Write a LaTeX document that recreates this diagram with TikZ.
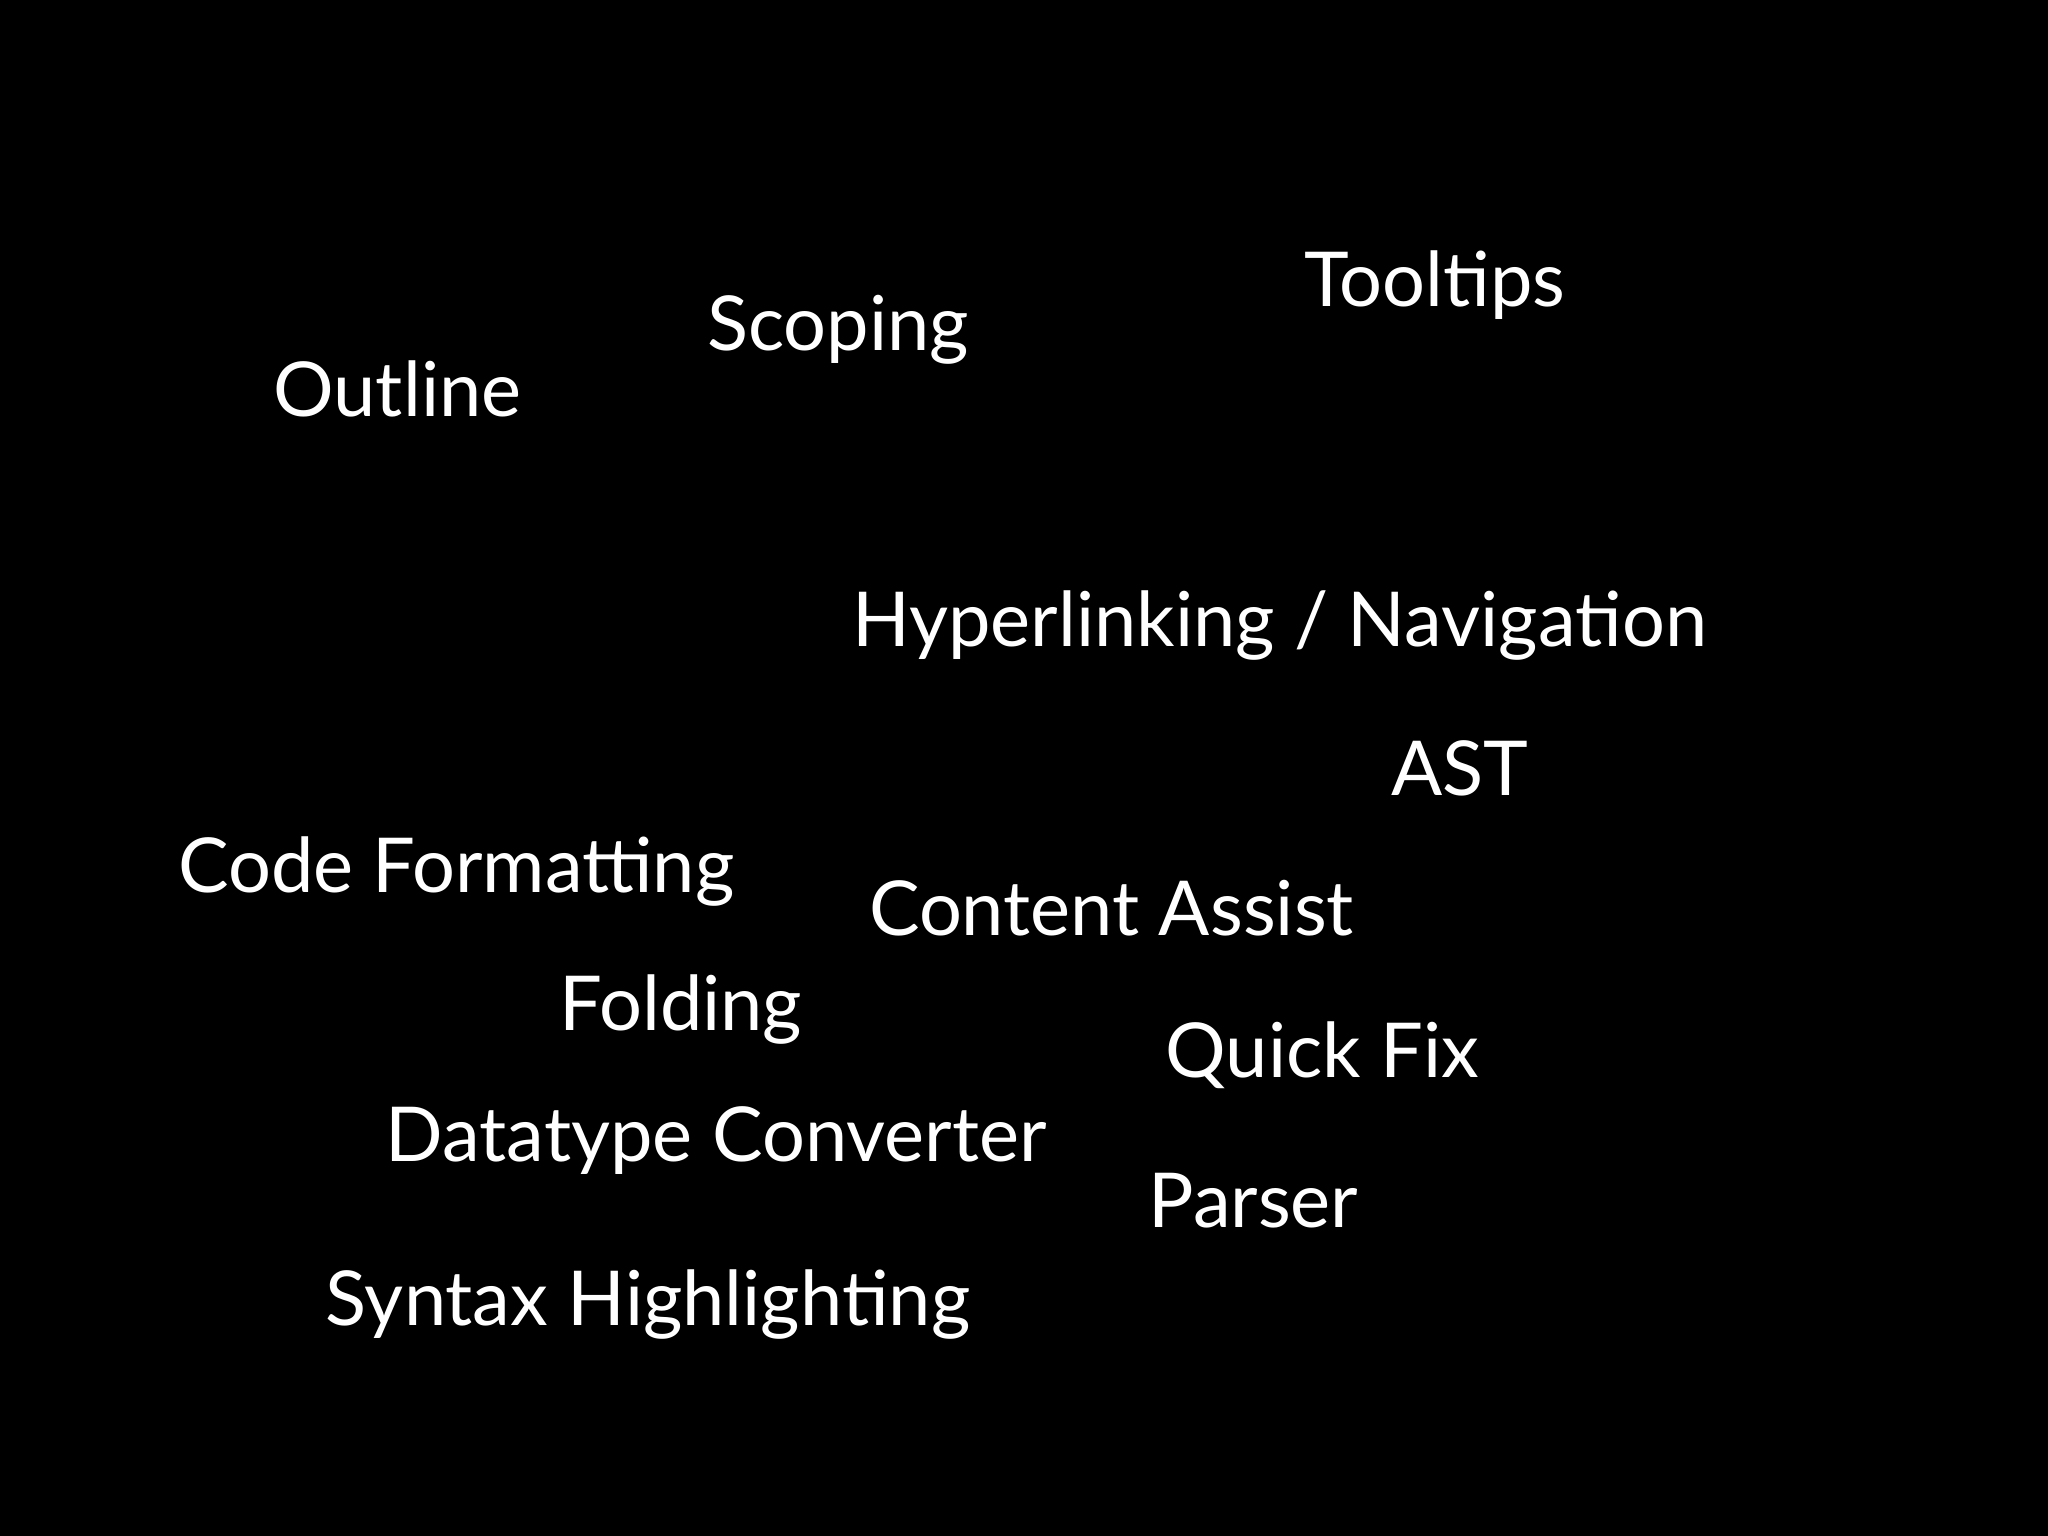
\documentclass[tikz,border=0pt]{standalone}
\usepackage{fontspec}
\setmainfont{Lato}
\begin{document}
\begin{tikzpicture}[x=0.5pt,y=-0.5pt,
  lbl/.style={anchor=base west,inner sep=0pt,text=white,font=\fontsize{29}{34}\selectfont}]
\fill[black] (0,0) rectangle (1568,1176);
\useasboundingbox (0,0) rectangle (1568,1176);
\node[lbl] (tooltips) at (998,235) {Tooltips};
\node[lbl] (scoping) at (541,268) {Scoping};
\node[lbl] (outline) at (209,319) {Outline};
\node[lbl] (hyper) at (652,495) {Hyperlinking / Navigation};
\node[lbl] (ast) at (1065,609) {AST};
\node[lbl] (codefmt) at (136,683) {Code Formatting};
\node[lbl] (content) at (665,716) {Content Assist};
\node[lbl] (folding) at (428,789) {Folding};
\node[lbl] (quickfix) at (892,825) {Quick Fix};
\node[lbl] (datatype) at (295,889) {Datatype Converter};
\node[lbl] (parser) at (879,940) {Parser};
\node[lbl] (syntax) at (249,1015) {Syntax Highlighting};
\end{tikzpicture}
\end{document}
